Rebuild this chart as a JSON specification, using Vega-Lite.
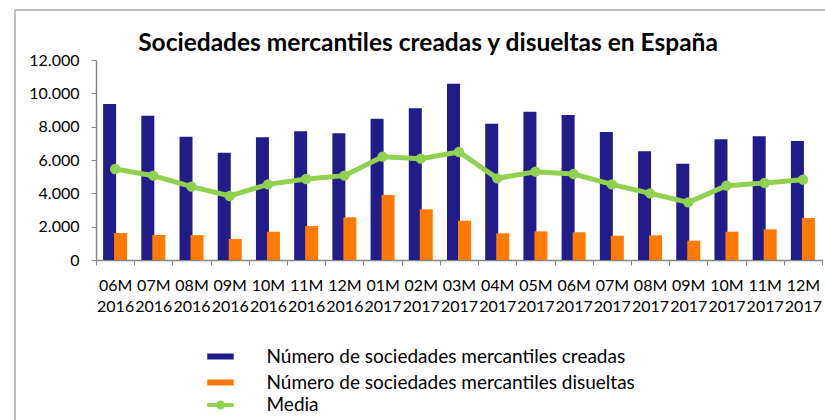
{
  "$schema": "https://vega.github.io/schema/vega-lite/v6.json",
  "autosize": "none",
  "width": 810,
  "height": 410,
  "padding": {"left": 15, "top": 10, "right": 0, "bottom": 0},
  "background": "white",
  "title": {
    "text": "Sociedades mercantiles creadas y disueltas en España",
    "font": "Lato",
    "fontSize": 24.5,
    "fontWeight": "bold",
    "color": "#000000",
    "anchor": "middle",
    "frame": "group",
    "offset": -46,
    "dx": 8
  },
  "config": {
    "locale": {"number": {"decimal": ",", "thousands": ".", "grouping": [3], "currency": ["", " €"]}},
    "view": {"stroke": "#A6A6A6", "strokeWidth": 1.5, "strokeDash": [810, 1220, 410, 0]},
    "axis": {"grid": false, "domainColor": "#868686", "tickColor": "#868686", "labelFont": "Lato", "labelFontSize": 16, "labelColor": "#000000", "title": null}
  },
  "data": {
    "values": [
      {"periodo": "06M 2016", "creadas": 9360, "disueltas": 1620, "media": 5460},
      {"periodo": "07M 2016", "creadas": 8660, "disueltas": 1500, "media": 5060},
      {"periodo": "08M 2016", "creadas": 7400, "disueltas": 1490, "media": 4400},
      {"periodo": "09M 2016", "creadas": 6440, "disueltas": 1260, "media": 3840},
      {"periodo": "10M 2016", "creadas": 7360, "disueltas": 1700, "media": 4540},
      {"periodo": "11M 2016", "creadas": 7720, "disueltas": 2040, "media": 4860},
      {"periodo": "12M 2016", "creadas": 7600, "disueltas": 2560, "media": 5060},
      {"periodo": "01M 2017", "creadas": 8480, "disueltas": 3900, "media": 6200},
      {"periodo": "02M 2017", "creadas": 9100, "disueltas": 3040, "media": 6080},
      {"periodo": "03M 2017", "creadas": 10580, "disueltas": 2360, "media": 6480},
      {"periodo": "04M 2017", "creadas": 8180, "disueltas": 1600, "media": 4900},
      {"periodo": "05M 2017", "creadas": 8900, "disueltas": 1720, "media": 5300},
      {"periodo": "06M 2017", "creadas": 8700, "disueltas": 1660, "media": 5160},
      {"periodo": "07M 2017", "creadas": 7680, "disueltas": 1460, "media": 4540},
      {"periodo": "08M 2017", "creadas": 6520, "disueltas": 1480, "media": 4000},
      {"periodo": "09M 2017", "creadas": 5780, "disueltas": 1160, "media": 3460},
      {"periodo": "10M 2017", "creadas": 7240, "disueltas": 1700, "media": 4460},
      {"periodo": "11M 2017", "creadas": 7420, "disueltas": 1840, "media": 4620},
      {"periodo": "12M 2017", "creadas": 7140, "disueltas": 2520, "media": 4820}
    ]
  },
  "encoding": {
    "x": {
      "field": "periodo",
      "type": "nominal",
      "sort": null,
      "scale": {"range": [81, 807], "paddingInner": 0, "paddingOuter": 0},
      "axis": {
        "orient": "bottom",
        "offset": -160,
        "labelAngle": 0,
        "labelExpr": "isValid(datum.value) ? split(datum.value, ' ') : ''",
        "labelLineHeight": 21,
        "labelPadding": 12,
        "labelOverlap": false,
        "labelLimit": 100,
        "tickBand": "extent",
        "tickSize": 5,
        "domainWidth": 1.5
      }
    }
  },
  "layer": [
    {
      "mark": {"type": "bar", "width": 13, "xOffset": -5.5},
      "encoding": {
        "y": {
          "field": "creadas",
          "type": "quantitative",
          "scale": {"domain": [0, 12000], "range": [250, 50], "nice": false, "zero": true},
          "axis": {
            "orient": "left",
            "offset": -81,
            "values": [0, 2000, 4000, 6000, 8000, 10000, 12000],
            "format": ",d",
            "tickSize": 5,
            "labelPadding": 12,
            "domainWidth": 1.5
          }
        },
        "fill": {
          "datum": "Número de sociedades mercantiles creadas",
          "type": "nominal",
          "scale": {
            "domain": ["Número de sociedades mercantiles creadas", "Número de sociedades mercantiles disueltas"],
            "range": ["#221C8A", "#FF7A00"]
          },
          "legend": {
            "title": null,
            "orient": "none",
            "legendX": 196,
            "legendY": 337,
            "padding": 0,
            "symbolType": "M-2.65,-0.6H2.65V0.6H-2.65Z",
            "symbolSize": 100,
            "symbolStrokeWidth": 0,
            "symbolOpacity": 1,
            "labelOffset": 36.5,
            "labelFont": "Lato",
            "labelFontSize": 19,
            "labelColor": "#000000",
            "labelLimit": 600,
            "rowPadding": 6
          }
        }
      }
    },
    {
      "mark": {"type": "bar", "width": 13, "xOffset": 5.5},
      "encoding": {
        "y": {"field": "disueltas", "type": "quantitative"},
        "fill": {"datum": "Número de sociedades mercantiles disueltas", "type": "nominal"}
      }
    },
    {
      "mark": {"type": "line", "strokeWidth": 5},
      "encoding": {
        "y": {"field": "media", "type": "quantitative"},
        "stroke": {
          "datum": "Media",
          "type": "nominal",
          "scale": {"domain": ["Media"], "range": ["#92D050"]},
          "legend": {
            "title": null,
            "orient": "none",
            "legendX": 196,
            "legendY": 385.5,
            "padding": 0,
            "symbolType": "M-2.65,0H2.65M0.5,0A0.5,0.5 0 1,1 -0.5,0A0.5,0.5 0 1,1 0.5,0",
            "symbolSize": 100,
            "symbolStrokeWidth": 4,
            "symbolStrokeColor": "#92D050",
            "symbolFillColor": "#92D050",
            "symbolOpacity": 1,
            "labelOffset": 36.5,
            "labelFont": "Lato",
            "labelFontSize": 19,
            "labelColor": "#000000",
            "labelLimit": 600
          }
        }
      }
    },
    {
      "mark": {"type": "point", "filled": true, "size": 70, "fill": "#92D050", "opacity": 1},
      "encoding": {
        "y": {"field": "media", "type": "quantitative"},
        "stroke": {"datum": "Media", "type": "nominal"}
      }
    }
  ]
}
